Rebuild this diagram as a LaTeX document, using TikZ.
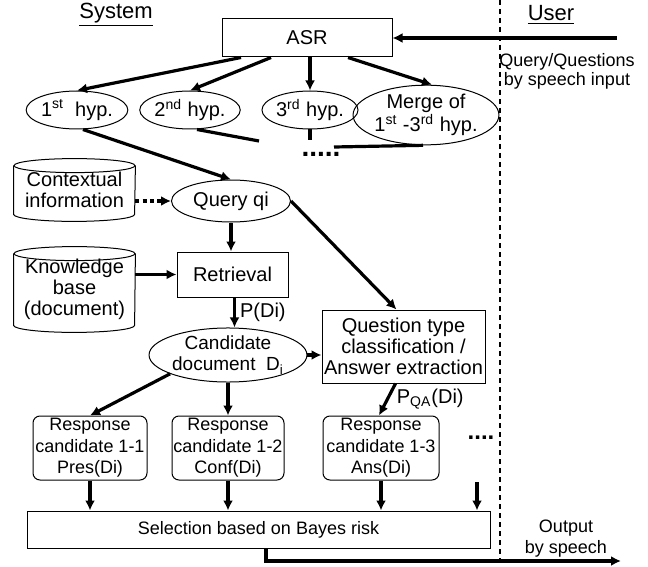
\documentclass[tikz,border=0pt]{standalone}
\usepackage{fontspec}
\setmainfont{Liberation Sans}
\usetikzlibrary{shapes.geometric,arrows.meta,calc}
\begin{document}
\begin{tikzpicture}[x=0.5pt,y=-0.5pt,
 every node/.style={font=\fontsize{10}{10.5}\selectfont, inner sep=0pt, align=center},
 box/.style={draw, line width=0.5pt},
 ell/.style={draw, ellipse, line width=0.5pt},
 rbox/.style={draw, rounded corners=3.5pt, line width=0.5pt, font=\fontsize{9}{10.75}\selectfont},
 arr/.style={line width=1.6pt, -{Latex[length=5pt,width=5pt]}},
 ln/.style={line width=1.6pt},
 cyl/.style={line width=0.5pt},
 bigdots/.style={font=\fontsize{14}{14}\selectfont\bfseries},
]
\useasboundingbox (0,0) rectangle (648,567);

% headings and divider
\node (sys) at (116,15) {\fontsize{11}{12}\selectfont\underline{System}};
\node (usr) at (551,15) {\fontsize{11}{12}\selectfont\underline{User}};
\coordinate (dt) at (500,0);
\coordinate (db) at (500,567);
\draw[line width=0.6pt, dash pattern=on 2.5pt off 2pt] (dt) -- (db);

% ASR and input
\node[box, minimum width=85pt, minimum height=19pt] (asr) at (307,38) {ASR};
\coordinate (uin) at (617,38);
\draw[arr] (uin) -- (asr.east);
\node[font=\fontsize{9}{9.5}\selectfont] (qin) at (567,71) {Query/Questions\\by speech input};

% hypotheses
\node[ell, minimum width=44pt, minimum height=19pt] (h1) at (77,110) {1\textsuperscript{st}\ \ hyp.};
\node[ell, minimum width=44pt, minimum height=19pt] (h2) at (190,110) {2\textsuperscript{nd} hyp.};
\node[ell, minimum width=44pt, minimum height=19pt] (h3) at (310,110) {3\textsuperscript{rd} hyp.};
\node[ell, minimum width=60.5pt, minimum height=27pt] (mg) at (426,115) {Merge of\\1\textsuperscript{st} -3\textsuperscript{rd} hyp.};

\draw[arr] ([xshift=-33pt]asr.south) -- (h1.north);
\draw[arr] ([xshift=-18pt]asr.south) -- (h2.north);
\draw[arr] ([xshift=1.5pt]asr.south) -- (h3.north);
\draw[arr] ([xshift=20.5pt]asr.south) -- ([xshift=3pt]mg.north);

% query
\node[ell, minimum width=59.5pt, minimum height=21pt] (q) at (231,201) {Query qi};
\draw[arr] ([xshift=3pt]h1.south) -- (q.north);
\coordinate (e2) at (259,141);
\coordinate (e3) at (310,140);
\coordinate (em) at (334,147);
\draw[ln] ([xshift=3.5pt]h2.south) -- (e2);
\draw[ln] (h3.south) -- (e3);
\draw[ln] ([xshift=-1.5pt]mg.south) -- (em);
\node[bigdots] (dots1) at (321,154) {.....};

% contextual information cylinder
\node[minimum width=60.5pt, minimum height=31pt] (ctx) at (74.5,190) {Contextual\\information};
\draw[cyl] ([yshift=-3.5pt]ctx.north west) -- ([yshift=3.5pt]ctx.south west)
  arc[start angle=180,end angle=360,x radius=30.25pt,y radius=3.5pt] -- ([yshift=-3.5pt]ctx.north east);
\draw[cyl] ([yshift=-3.5pt]ctx.north) ellipse[x radius=30.25pt,y radius=3.5pt];
\draw[line width=1.6pt, dash pattern=on 2pt off 1.6pt, -{Latex[length=5pt,width=5pt]}] (ctx.east |- q.west) -- (q.west);

% knowledge base cylinder
\node[minimum width=60.5pt, minimum height=42.5pt] (kb) at (74.5,289.5) {Knowledge\\base\\(document)};
\draw[cyl] ([yshift=-3.5pt]kb.north west) -- ([yshift=3.5pt]kb.south west)
  arc[start angle=180,end angle=360,x radius=30.25pt,y radius=3.5pt] -- ([yshift=-3.5pt]kb.north east);
\draw[cyl] ([yshift=-3.5pt]kb.north) ellipse[x radius=30.25pt,y radius=3.5pt];

% retrieval
\node[box, minimum width=55.5pt, minimum height=22.5pt] (ret) at (232.5,274.5) {Retrieval};
\draw[arr] (q.south) -- (q.south |- ret.north);
\draw[arr] (kb.east |- ret.west) -- (ret.west);

% candidate document
\node[ell, minimum width=76pt, minimum height=26pt, font=\fontsize{9.5}{10.5}\selectfont] (cand) at (228,355) {Candidate\\document\ \ D\textsubscript{i}};
\coordinate (rs) at ([xshift=1pt]ret.south);
\draw[arr] (rs) -- (rs |- cand.north) node[midway, right=2pt] {P(Di)};

% question type box
\node[box, minimum width=81.5pt, minimum height=36.5pt] (qt) at (403.5,346.5) {Question type\\classification /\\Answer extraction};
\draw[arr] (q.east) -- ([xshift=-3.5pt]qt.north);
\draw[arr] (cand.east) -- (cand.east -| qt.west);

% response candidates
\node[rbox, minimum width=57pt, minimum height=32pt] (r1) at (90,448) {Response\\candidate 1-1\\Pres(Di)};
\node[rbox, minimum width=56pt, minimum height=32pt] (r2) at (228,448) {Response\\candidate 1-2\\Conf(Di)};
\node[rbox, minimum width=58pt, minimum height=32pt] (r3) at (381,448) {Response\\candidate 1-3\\Ans(Di)};
\node[font=\fontsize{12}{12}\selectfont\bfseries] (dots2) at (481,438) {....};

\draw[arr] (cand.198) -- (r1.north);
\draw[arr] (cand.south) -- (r2.north);
\draw[arr] ([xshift=-4pt]qt.south) -- ([xshift=-1pt]r3.north) node[midway, right=4pt] {P\textsubscript{QA}(Di)};

% selection
\node[box, minimum width=231.5pt, minimum height=18.5pt, font=\fontsize{9}{10}\selectfont] (sel) at (258.5,529.5) {Selection based on Bayes risk};
\draw[arr] (r1.south) -- (r1.south |- sel.north);
\draw[arr] (r2.south) -- (r2.south |- sel.north);
\draw[arr] (r3.south) -- (r3.south |- sel.north);
\coordinate (d4) at (477,482);
\draw[arr] (d4) -- (d4 |- sel.north);

% output
\coordinate (oe) at (621,561);
\draw[arr] ([xshift=3.75pt]sel.south) |- (oe);
\node[font=\fontsize{9}{10.5}\selectfont] (otxt) at (566,539) {Output\\by speech};
\end{tikzpicture}
\end{document}
